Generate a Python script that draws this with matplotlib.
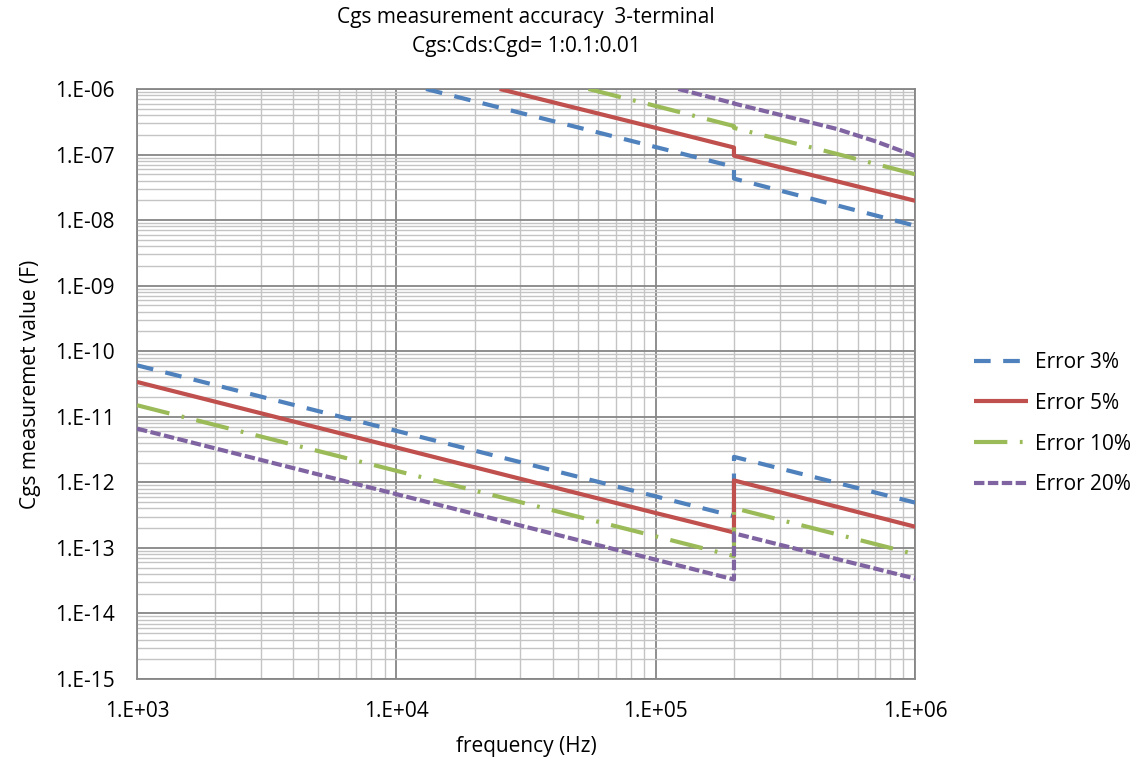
import matplotlib
matplotlib.use("Agg")
import matplotlib.pyplot as plt
from matplotlib.ticker import LogLocator, FuncFormatter, NullFormatter
import math

plt.rcParams['font.family'] = ['Open Sans', 'DejaVu Sans']
plt.rcParams['lines.scale_dashes'] = False

# lower limit lines (jump at 200 kHz)
freq_low = [1e3, 1e4, 1e5, 2e5, 2e5, 1e6]
err3_low = [6.1e-11, 6.1e-12, 6.1e-13, 3.05e-13, 2.45e-12, 4.9e-13]
err5_low = [3.4e-11, 3.4e-12, 3.4e-13, 1.72e-13, 1.07e-12, 2.1e-13]
err10_low = [1.5e-11, 1.5e-12, 1.5e-13, 7.5e-14, 4.05e-13, 8.0e-14]
err20_low = [6.6e-12, 6.6e-13, 6.6e-14, 3.3e-14, 1.67e-13, 3.4e-14]

# upper limit lines
err3_high_f = [1.3e4, 1e5, 2e5, 2e5, 1e6]
err3_high = [1e-6, 1.3e-7, 6.5e-8, 4.3e-8, 8.2e-9]
err5_high_f = [2.5e4, 1e5, 2e5, 2e5, 1e6]
err5_high = [1e-6, 2.55e-7, 1.28e-7, 9.6e-8, 1.97e-8]
err10_high_f = [5.5e4, 1e5, 2e5, 2e5, 5e5, 1e6]
err10_high = [1e-6, 5.5e-7, 2.72e-7, 2.55e-7, 1.02e-7, 5.0e-8]
err20_high_f = [1.22e5, 2e5, 2e5, 3e5, 5e5, 7e5, 1e6]
err20_high = [1e-6, 6.05e-7, 6.0e-7, 4.05e-7, 2.45e-7, 1.6e-7, 9.5e-8]

labels = ['Error 3%', 'Error 5%', 'Error 10%', 'Error 20%']
colors = ['#4F81BD', '#C0504D', '#9BBB59', '#8064A2']
dashes = [(12, 9), None, (24, 9, 2, 9), (7.5, 2.5)]

fig = plt.figure(figsize=(11.39, 7.62), dpi=100)
ax = fig.add_axes([0.1203, 0.1089, 0.6833, 0.7743])

lows = [err3_low, err5_low, err10_low, err20_low]
highs = [(err3_high_f, err3_high), (err5_high_f, err5_high),
         (err10_high_f, err10_high), (err20_high_f, err20_high)]

for i in range(4):
    for j, (xs, ys) in enumerate([(freq_low, lows[i]), highs[i]]):
        ln, = ax.plot(xs, ys, color=colors[i], lw=3.0,
                      label=labels[i] if j == 0 else None,
                      solid_capstyle='butt', dash_capstyle='butt', zorder=3)
        if dashes[i] is not None:
            ln.set_dashes(dashes[i])

ax.set_xscale('log')
ax.set_yscale('log')
ax.set_xlim(1e3, 1e6)
ax.set_ylim(1e-15, 1e-6)

ax.xaxis.set_major_locator(LogLocator(base=10, numticks=20))
ax.yaxis.set_major_locator(LogLocator(base=10, numticks=20))
ax.xaxis.set_minor_locator(LogLocator(base=10, subs=range(2, 10), numticks=20))
ax.yaxis.set_minor_locator(LogLocator(base=10, subs=range(2, 10), numticks=20))
fmt = FuncFormatter(lambda v, p: "1.E%+03d" % round(math.log10(v)))
ax.xaxis.set_major_formatter(fmt)
ax.yaxis.set_major_formatter(fmt)
ax.xaxis.set_minor_formatter(NullFormatter())
ax.yaxis.set_minor_formatter(NullFormatter())

ax.grid(which='major', color='#868686', lw=1.3)
ax.grid(which='minor', color='#c4c4c4', lw=1.0)
ax.set_axisbelow(True)
for s in ax.spines.values():
    s.set_color('#868686')
    s.set_linewidth(1.3)

ax.tick_params(which='both', length=0, labelsize=15, colors='black')
ax.tick_params(axis='x', pad=16)
ax.tick_params(axis='y', pad=16)

ax.set_xlabel('frequency (Hz)', fontsize=15, labelpad=10)
ax.set_ylabel('Cgs measuremet value (F)', fontsize=15, labelpad=10)

fig.text(0.462, 0.958, 'Cgs measurement accuracy  3-terminal\nCgs:Cds:Cgd= 1:0.1:0.01',
         ha='center', va='center', fontsize=15, linespacing=1.5)

ax.legend(loc='center left', bbox_to_anchor=(0.848, 0.444), bbox_transform=fig.transFigure,
          frameon=False, fontsize=15, handlelength=2.6, handletextpad=0.3,
          labelspacing=0.95, borderaxespad=0)

fig.savefig('out.png', dpi=100)
